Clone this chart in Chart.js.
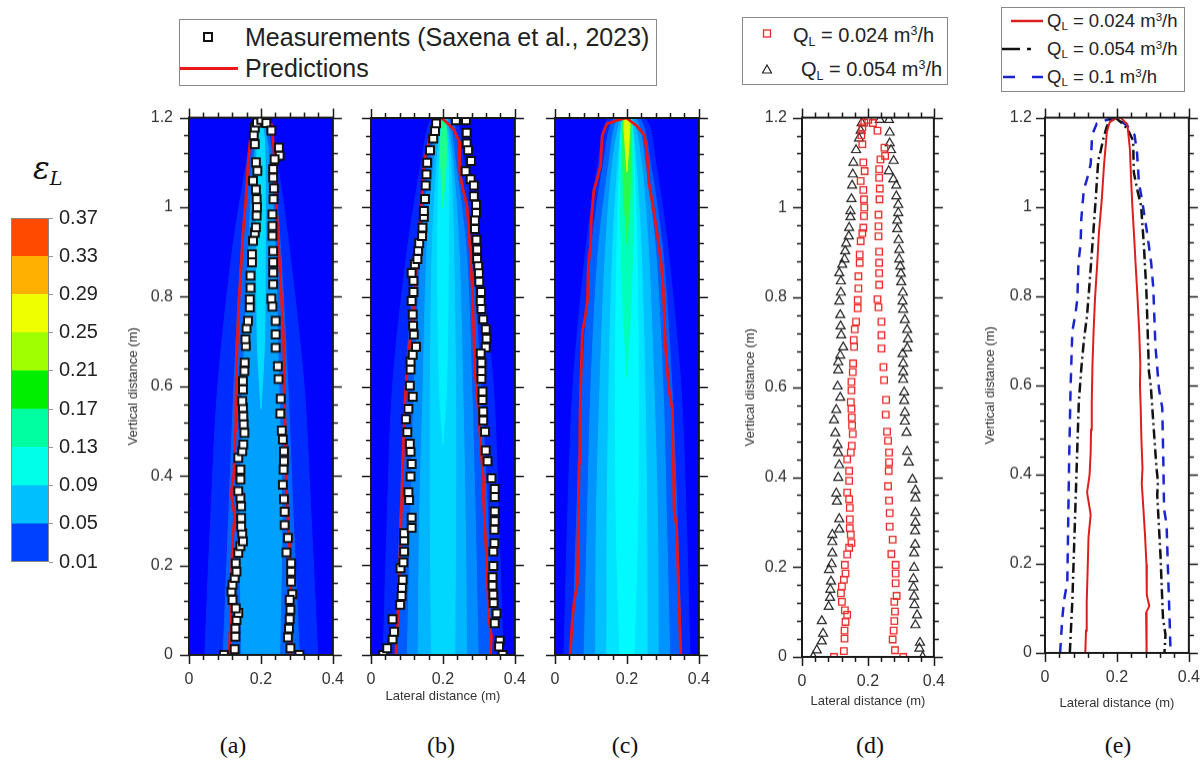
<!DOCTYPE html>
<html>
<head>
<meta charset="utf-8">
<script src="https://cdn.jsdelivr.net/npm/chart.js@4.4.0/dist/chart.umd.min.js"></script>
<style>
  body { margin: 0; background: #fff; font-family: "Liberation Sans", Arial, sans-serif; }
  #page { position: relative; width: 1204px; height: 764px; overflow: hidden; }
  #page canvas { position: absolute; }
  .t { position: absolute; white-space: nowrap; color: #222; }
  .box { position: absolute; box-sizing: border-box; border: 1.5px solid #8a8a8a; background: #fff; }
  sub, sup { font-size: 0.62em; line-height: 0; }
  sub { vertical-align: -0.3em; }
  sup { vertical-align: 0.55em; }
  .lab { position: absolute; width: 60px; text-align: center; font: 24px "Liberation Serif", "Times New Roman", serif; line-height: 28px; color: #111; }
</style>
</head>
<body>
<div id="page">
  <div class="t" style="left:33px;top:150px;font:italic 31px 'DejaVu Serif',serif;color:#111;">ε<sub style="font-size:0.62em;">L</sub></div>

  <div class="box" style="left:179px;top:19px;width:478px;height:67px;"></div>
  <div style="position:absolute;left:203px;top:32px;width:10px;height:10px;box-sizing:border-box;border:2.5px solid #111;background:#fff;"></div>
  <div style="position:absolute;left:180px;top:66.5px;width:58px;height:3px;background:rgb(235,25,25);"></div>
  <div class="t" style="left:245px;top:23px;font-size:25px;line-height:28px;">Measurements (Saxena et al., 2023)</div>
  <div class="t" style="left:245px;top:54px;font-size:25px;line-height:28px;">Predictions</div>

  <div class="box" style="left:742px;top:17px;width:206px;height:68px;"></div>
  <div class="t" style="left:793px;top:21px;font-size:20px;line-height:28px;">Q<sub>L</sub> = 0.024 m<sup>3</sup>/h</div>
  <div class="t" style="left:801px;top:55px;font-size:20px;line-height:28px;">Q<sub>L</sub> = 0.054 m<sup>3</sup>/h</div>

  <div class="box" style="left:1001px;top:7px;width:184px;height:85px;"></div>
  <div class="t" style="left:1047px;top:8px;font-size:18.5px;line-height:26px;">Q<sub>L</sub> = 0.024 m<sup>3</sup>/h</div>
  <div class="t" style="left:1047px;top:36px;font-size:18.5px;line-height:26px;">Q<sub>L</sub> = 0.054 m<sup>3</sup>/h</div>
  <div class="t" style="left:1047px;top:64px;font-size:18.5px;line-height:26px;">Q<sub>L</sub> = 0.1 m<sup>3</sup>/h</div>

  <svg style="position:absolute;left:0;top:0;" width="1204" height="100">
    <rect x="763.5" y="30" width="7" height="7" fill="none" stroke="rgb(235,40,40)" stroke-width="1.3"/>
    <polygon points="767,65 771.5,73 762.5,73" fill="none" stroke="#222" stroke-width="1.2"/>
    <line x1="1011" y1="21" x2="1043" y2="21" stroke="rgb(220,30,30)" stroke-width="2.5"/>
    <line x1="1002" y1="49" x2="1020" y2="49" stroke="#111" stroke-width="2.5"/>
    <line x1="1027" y1="49" x2="1031" y2="49" stroke="#111" stroke-width="2.5"/>
    <line x1="1003" y1="77" x2="1015" y2="77" stroke="rgb(25,35,210)" stroke-width="2.5"/>
    <line x1="1032" y1="77" x2="1043" y2="77" stroke="rgb(25,35,210)" stroke-width="2.5"/>
  </svg>

  <div class="lab" style="left:203px;top:731px;">(a)</div>
  <div class="lab" style="left:411px;top:731px;">(b)</div>
  <div class="lab" style="left:595px;top:731px;">(c)</div>
  <div class="lab" style="left:840px;top:731px;">(d)</div>
  <div class="lab" style="left:1088px;top:731px;">(e)</div>
</div>

<script>
// ---- axis values ----
const xTicks = [0, 0.2, 0.4];
const yTicks = [0, 0.2, 0.4, 0.6, 0.8, 1, 1.2];
const minorStep = 0.04;
const cbarLevels = [0.01, 0.05, 0.09, 0.13, 0.17, 0.21, 0.25, 0.29, 0.33, 0.37];

// ---- measurements [x, y] ----
const measA_left = [[0.097,0.0],[0.127,0.013],[0.129,0.041],[0.129,0.059],[0.132,0.078],[0.137,0.094],[0.130,0.104],[0.121,0.123],[0.118,0.142],[0.121,0.157],[0.127,0.172],[0.132,0.186],[0.130,0.205],[0.137,0.228],[0.143,0.243],[0.150,0.254],[0.148,0.272],[0.145,0.287],[0.145,0.306],[0.145,0.332],[0.143,0.351],[0.137,0.366],[0.143,0.392],[0.143,0.414],[0.137,0.440],[0.148,0.455],[0.151,0.470],[0.154,0.496],[0.152,0.515],[0.151,0.533],[0.150,0.552],[0.148,0.567],[0.150,0.593],[0.150,0.612],[0.154,0.634],[0.155,0.653],[0.158,0.690],[0.157,0.705],[0.160,0.729],[0.164,0.746],[0.169,0.776],[0.169,0.794],[0.171,0.820],[0.171,0.847],[0.175,0.877],[0.175,0.895],[0.178,0.925],[0.183,0.943],[0.186,0.955],[0.188,0.981],[0.189,1.000],[0.188,1.018],[0.186,1.039],[0.178,1.059],[0.190,1.081],[0.186,1.100],[0.183,1.141],[0.180,1.161],[0.183,1.178],[0.189,1.189],[0.201,1.195]];
const measA_right = [[0.215,1.188],[0.229,1.171],[0.250,1.133],[0.252,1.115],[0.238,1.107],[0.234,1.085],[0.234,1.066],[0.236,1.042],[0.235,1.018],[0.232,0.984],[0.232,0.958],[0.232,0.936],[0.234,0.902],[0.234,0.877],[0.234,0.854],[0.234,0.828],[0.229,0.796],[0.232,0.778],[0.241,0.746],[0.241,0.716],[0.241,0.686],[0.247,0.645],[0.249,0.616],[0.255,0.572],[0.254,0.539],[0.258,0.501],[0.261,0.481],[0.264,0.455],[0.264,0.433],[0.263,0.414],[0.261,0.380],[0.264,0.348],[0.266,0.320],[0.266,0.290],[0.275,0.261],[0.271,0.229],[0.284,0.205],[0.284,0.186],[0.284,0.164],[0.287,0.136],[0.280,0.123],[0.282,0.101],[0.280,0.080],[0.278,0.059],[0.275,0.039],[0.282,0.015],[0.307,0.0]];
const measB_left = [[0.034,0.0],[0.045,0.015],[0.060,0.035],[0.064,0.052],[0.060,0.080],[0.081,0.112],[0.085,0.132],[0.086,0.150],[0.088,0.168],[0.082,0.194],[0.090,0.207],[0.092,0.231],[0.092,0.256],[0.092,0.272],[0.113,0.284],[0.113,0.307],[0.106,0.346],[0.104,0.364],[0.110,0.399],[0.113,0.427],[0.110,0.454],[0.108,0.472],[0.101,0.498],[0.097,0.527],[0.104,0.550],[0.116,0.577],[0.108,0.602],[0.110,0.638],[0.110,0.656],[0.116,0.671],[0.125,0.689],[0.119,0.716],[0.117,0.736],[0.116,0.761],[0.113,0.791],[0.118,0.811],[0.118,0.836],[0.113,0.854],[0.122,0.873],[0.129,0.885],[0.131,0.903],[0.134,0.920],[0.142,0.936],[0.143,0.955],[0.147,0.979],[0.147,0.992],[0.150,1.019],[0.152,1.049],[0.154,1.074],[0.156,1.100],[0.164,1.128],[0.173,1.154],[0.178,1.171],[0.181,1.188]];
const measB_right = [[0.236,1.195],[0.264,1.195],[0.266,1.167],[0.266,1.143],[0.270,1.128],[0.278,1.104],[0.263,1.081],[0.277,1.063],[0.286,1.049],[0.286,1.025],[0.292,1.006],[0.292,0.988],[0.289,0.971],[0.289,0.952],[0.293,0.928],[0.295,0.906],[0.295,0.885],[0.298,0.869],[0.300,0.853],[0.301,0.834],[0.306,0.811],[0.305,0.791],[0.307,0.773],[0.312,0.750],[0.319,0.728],[0.321,0.707],[0.319,0.687],[0.305,0.674],[0.307,0.653],[0.307,0.634],[0.307,0.617],[0.310,0.589],[0.310,0.570],[0.312,0.544],[0.312,0.524],[0.317,0.499],[0.319,0.457],[0.324,0.433],[0.335,0.395],[0.344,0.371],[0.344,0.353],[0.344,0.321],[0.344,0.299],[0.343,0.280],[0.343,0.250],[0.340,0.231],[0.340,0.199],[0.338,0.174],[0.338,0.155],[0.340,0.135],[0.341,0.116],[0.349,0.093],[0.344,0.071],[0.358,0.032],[0.356,0.019],[0.366,0.0]];

// ---- predicted plume outlines [x, y] (left edge up, right edge down) ----
const predA = [[0.112,0],[0.114,0.05],[0.116,0.116],[0.118,0.17],[0.121,0.26],[0.127,0.31],[0.117,0.36],[0.124,0.40],[0.127,0.45],[0.128,0.5],[0.130,0.564],[0.132,0.645],[0.135,0.72],[0.139,0.794],[0.145,0.87],[0.150,0.943],[0.158,1.018],[0.164,1.093],[0.172,1.168],[0.180,1.19],[0.200,1.2],[0.210,1.2],[0.229,1.185],[0.236,1.13],[0.240,1.05],[0.243,1.0],[0.248,0.93],[0.252,0.87],[0.257,0.8],[0.262,0.72],[0.265,0.645],[0.264,0.60],[0.266,0.55],[0.268,0.48],[0.271,0.414],[0.269,0.38],[0.273,0.33],[0.278,0.265],[0.282,0.2],[0.283,0.13],[0.290,0.105],[0.281,0.09],[0.283,0.05],[0.282,0]];
const predB = [[0.069,0],[0.072,0.05],[0.076,0.116],[0.082,0.265],[0.088,0.414],[0.094,0.563],[0.101,0.638],[0.108,0.70],[0.117,0.757],[0.124,0.83],[0.131,0.906],[0.141,1.018],[0.148,1.104],[0.155,1.126],[0.162,1.152],[0.171,1.178],[0.181,1.197],[0.196,1.2],[0.212,1.189],[0.230,1.174],[0.245,1.148],[0.247,1.077],[0.256,1.04],[0.267,1.003],[0.275,0.913],[0.282,0.809],[0.289,0.63],[0.294,0.60],[0.301,0.518],[0.310,0.414],[0.314,0.384],[0.312,0.354],[0.317,0.28],[0.321,0.22],[0.328,0.078],[0.335,0.041],[0.332,0]];
const predC = [[0.042,0],[0.048,0.077],[0.053,0.118],[0.062,0.159],[0.064,0.265],[0.067,0.428],[0.069,0.509],[0.071,0.591],[0.074,0.672],[0.076,0.721],[0.085,0.762],[0.090,0.794],[0.093,0.876],[0.099,0.917],[0.101,0.974],[0.108,1.039],[0.117,1.063],[0.127,1.096],[0.131,1.161],[0.144,1.187],[0.173,1.195],[0.199,1.2],[0.229,1.181],[0.249,1.161],[0.256,1.12],[0.261,1.055],[0.270,1.014],[0.284,0.941],[0.295,0.876],[0.301,0.819],[0.307,0.688],[0.317,0.591],[0.326,0.55],[0.329,0.428],[0.331,0.322],[0.338,0.289],[0.342,0.183],[0.347,0.061],[0.349,0]];

// ---- contour bands [y, xLeft, xRight], outermost first ----
const bandsA = [
  [[0,0.044,0.358],[0.3,0.06,0.34],[0.6,0.08,0.32],[0.9,0.12,0.28],[1.1,0.16,0.245],[1.2,0.185,0.215]],
  [[0,0.095,0.307],[0.3,0.11,0.29],[0.6,0.125,0.275],[0.9,0.145,0.255],[1.1,0.17,0.235],[1.2,0.19,0.21]],
  [[0,0.146,0.252],[0.3,0.142,0.258],[0.6,0.15,0.25],[0.9,0.165,0.24],[1.1,0.18,0.225],[1.2,0.195,0.205]],
  [[0.55,0.2,0.2],[0.7,0.19,0.21],[1.0,0.188,0.212],[1.15,0.19,0.21],[1.2,0.2,0.2]]
];
const bandsB = [
  [[0,0.034,0.367],[0.3,0.045,0.355],[0.6,0.06,0.34],[0.9,0.1,0.3],[1.1,0.14,0.26],[1.2,0.17,0.235]],
  [[0,0.069,0.335],[0.3,0.08,0.325],[0.6,0.095,0.305],[0.9,0.125,0.28],[1.1,0.155,0.245],[1.2,0.18,0.225]],
  [[0,0.101,0.298],[0.3,0.11,0.29],[0.6,0.12,0.28],[0.9,0.14,0.265],[1.1,0.165,0.235],[1.2,0.19,0.215]],
  [[0,0.131,0.266],[0.3,0.135,0.262],[0.6,0.145,0.255],[0.9,0.155,0.245],[1.1,0.175,0.228],[1.2,0.195,0.21]],
  [[0,0.168,0.233],[0.3,0.165,0.235],[0.6,0.165,0.235],[0.9,0.17,0.23],[1.1,0.183,0.222],[1.2,0.198,0.206]],
  [[0.47,0.2,0.2],[0.6,0.19,0.21],[0.9,0.185,0.215],[1.1,0.19,0.215],[1.2,0.2,0.205]],
  [[1.0,0.2,0.2],[1.12,0.193,0.21],[1.2,0.198,0.206]]
];
const bandsC = [
  [[0,0.025,0.375],[0.3,0.035,0.365],[0.6,0.05,0.35],[0.9,0.085,0.315],[1.1,0.12,0.28],[1.2,0.15,0.25]],
  [[0,0.048,0.352],[0.3,0.06,0.34],[0.6,0.075,0.325],[0.9,0.1,0.3],[1.1,0.135,0.265],[1.2,0.165,0.235]],
  [[0,0.081,0.319],[0.3,0.09,0.31],[0.6,0.1,0.3],[0.9,0.12,0.28],[1.1,0.15,0.25],[1.2,0.175,0.225]],
  [[0,0.113,0.287],[0.3,0.115,0.285],[0.6,0.125,0.275],[0.9,0.14,0.26],[1.1,0.16,0.24],[1.2,0.185,0.215]],
  [[0,0.144,0.256],[0.3,0.145,0.255],[0.6,0.15,0.25],[0.9,0.16,0.24],[1.1,0.175,0.225],[1.2,0.19,0.21]],
  [[0,0.18,0.22],[0.3,0.17,0.23],[0.6,0.168,0.232],[0.9,0.172,0.228],[1.1,0.18,0.22],[1.2,0.19,0.21]],
  [[0.62,0.2,0.2],[0.8,0.188,0.212],[1.0,0.182,0.218],[1.15,0.185,0.215],[1.2,0.19,0.21]],
  [[0.92,0.2,0.2],[1.05,0.19,0.21],[1.15,0.188,0.212],[1.2,0.19,0.21]],
  [[1.08,0.2,0.2],[1.15,0.194,0.206],[1.2,0.193,0.207]]
];

// ---- styles ----
const bgBlue = 'rgb(0,4,252)';
const colorsA = ['rgb(0,45,255)', 'rgb(0,100,255)', 'rgb(0,160,255)', 'rgb(0,220,255)'];
const colorsB = ['rgb(0,40,255)', 'rgb(0,92,255)', 'rgb(0,140,255)', 'rgb(0,182,255)', 'rgb(0,215,255)', 'rgb(0,240,255)', 'rgb(30,255,140)'];
const colorsC = ['rgb(0,40,255)', 'rgb(0,95,255)', 'rgb(0,148,255)', 'rgb(0,192,255)', 'rgb(0,228,255)', 'rgb(0,250,255)', 'rgb(0,255,185)', 'rgb(40,250,80)', 'rgb(220,255,0)'];
const cbarColors = ['#0040ff', '#00bfff', '#00ffe8', '#00ffa0', '#00ee00', '#a0ff00', '#f0ff00', '#ffb000', '#ff4a00'];
const red = 'rgb(235,20,20)';

Chart.defaults.font.family = '"Liberation Sans", Arial, sans-serif';
Chart.defaults.color = '#333';

const page = document.getElementById('page');
const fmt = v => String(Math.round(v * 10) / 10);
const pts = arr => arr.map(p => ({x: p[0], y: p[1]}));

// plot background colour
const plotBg = {
  id: 'plotBg',
  beforeDatasetsDraw(chart, args, opts) {
    if (!opts.color) return;
    const a = chart.chartArea, ctx = chart.ctx;
    ctx.save();
    ctx.fillStyle = opts.color;
    ctx.fillRect(a.left, a.top, a.right - a.left, a.bottom - a.top);
    ctx.restore();
  }
};

// box frame with outward major/minor ticks on all four sides
const frame = {
  id: 'frame',
  afterDraw(chart) {
    const {ctx, chartArea: a, scales: {x, y}} = chart;
    ctx.save();
    ctx.strokeStyle = '#1a1a1a';
    ctx.lineWidth = 1.5;
    ctx.beginPath();
    const nx = Math.round((x.max - x.min) / minorStep);
    for (let i = 0; i <= nx; i++) {
      const px = Math.round(x.getPixelForValue(x.min + i * minorStep)) + 0.5;
      const len = i % 5 === 0 ? 9 : 5;
      ctx.moveTo(px, a.bottom); ctx.lineTo(px, a.bottom + len);
      ctx.moveTo(px, a.top); ctx.lineTo(px, a.top - len);
    }
    const ny = Math.round((y.max - y.min) / minorStep);
    for (let i = 0; i <= ny; i++) {
      const py = Math.round(y.getPixelForValue(y.min + i * minorStep)) + 0.5;
      const len = i % 5 === 0 ? 9 : 5;
      ctx.moveTo(a.left, py); ctx.lineTo(a.left - len, py);
      ctx.moveTo(a.right, py); ctx.lineTo(a.right + len, py);
    }
    ctx.stroke();
    ctx.lineWidth = 2;
    ctx.strokeRect(a.left, a.top, a.right - a.left, a.bottom - a.top);
    ctx.restore();
  }
};

function bandSets(bands, colors) {
  return bands.map((rows, k) => {
    const left = rows.map(r => ({x: r[1], y: r[0]}));
    const right = rows.slice().reverse().map(r => ({x: r[2], y: r[0]}));
    return {
      data: left.concat(right), showLine: true, fill: 'shape',
      backgroundColor: colors[k], borderColor: colors[k], borderWidth: 1,
      pointRadius: 0, tension: 0.3, order: 100 - k
    };
  });
}
function predSet(arr, color, width, dash) {
  return {data: pts(arr), showLine: true, fill: false, borderColor: color, borderWidth: width,
          borderDash: dash || [], pointRadius: 0, order: 1};
}
function measSet(arr) {
  return {data: pts(arr), pointStyle: 'rect', pointRadius: 5.6, backgroundColor: '#fff',
          borderColor: '#111', borderWidth: 2, order: 0};
}

function panelConfig(p, datasets, bg, YW, XH, PT) {
  return {
    type: 'scatter',
    data: {datasets},
    options: {
      responsive: false, animation: false, devicePixelRatio: 1,
      layout: {padding: {left: 0, top: PT, right: 18, bottom: 0}},
      plugins: {legend: {display: false}, tooltip: {enabled: false}, plotBg: {color: bg}},
      scales: {
        x: {
          type: 'linear', min: 0, max: 0.4,
          afterBuildTicks: s => { s.ticks = xTicks.map(v => ({value: v})); },
          afterFit: s => { s.height = XH; },
          grid: {display: false, drawTicks: false}, border: {display: false},
          ticks: {font: {size: 16}, color: '#333', padding: 15, maxRotation: 0, autoSkip: false, callback: fmt},
          title: {display: !!p.xTitleY, text: 'Lateral distance (m)', font: {size: 13}, color: '#333',
                  padding: {top: 0, bottom: 1}}
        },
        y: {
          type: 'linear', min: 0, max: 1.2,
          afterBuildTicks: s => { s.ticks = yTicks.map(v => ({value: v})); },
          afterFit: s => { s.width = YW; },
          grid: {display: false, drawTicks: false}, border: {display: false},
          ticks: {display: !!p.yTitleX, font: {size: 16}, color: '#333', padding: p.yPad || 15, autoSkip: false, callback: fmt},
          title: {display: !!p.yTitleX, text: 'Vertical distance (m)', font: {size: 13}, color: '#333',
                  padding: {top: p.yTitleX ? p.yTitleX - (p.x - YW) - 7.8 : 0, bottom: 0}}
        }
      }
    },
    plugins: [plotBg, frame]
  };
}

// build once, measure the plot area, rebuild so it lands exactly on the target box
function addPanel(p, datasets, bg) {
  const YW = 70, PT = 14, PR = 18;
  const XH = p.xTitleY ? Math.round(p.xTitleY + 9 - (p.y + p.h)) : 40;
  const cv = document.createElement('canvas');
  page.appendChild(cv);
  let W = p.w + YW + PR, H = p.h + PT + XH;
  cv.width = W; cv.height = H;
  let chart = new Chart(cv, panelConfig(p, datasets, bg, YW, XH, PT));
  let a = chart.chartArea;
  const dw = p.w - (a.right - a.left), dh = p.h - (a.bottom - a.top);
  if (Math.abs(dw) > 0.01 || Math.abs(dh) > 0.01) {
    chart.destroy();
    W += dw; H += dh;
    cv.width = W; cv.height = H;
    cv.style.width = W + 'px'; cv.style.height = H + 'px';
    chart = new Chart(cv, panelConfig(p, datasets, bg, YW, XH, PT));
    a = chart.chartArea;
  }
  cv.style.left = (p.x - a.left) + 'px';
  cv.style.top = (p.y - a.top) + 'px';
}

const geo = {
  a: {x: 189, y: 118, w: 144, h: 537, yTitleX: 133, yPad: 16},
  b: {x: 371, y: 118, w: 144, h: 537, xTitleY: 696},
  c: {x: 555, y: 118, w: 144, h: 537},
  d: {x: 802, y: 118, w: 132, h: 539, yTitleX: 750, yPad: 15, xTitleY: 701},
  e: {x: 1045, y: 118, w: 144, h: 535, yTitleX: 990, yPad: 13, xTitleY: 703}
};

addPanel(geo.a, bandSets(bandsA, colorsA).concat([
  predSet(predA, red, 2.8),
  measSet(measA_left.concat(measA_right))
]), bgBlue);

addPanel(geo.b, bandSets(bandsB, colorsB).concat([
  predSet(predB, red, 2.8),
  measSet(measB_left.concat(measB_right))
]), bgBlue);

addPanel(geo.c, bandSets(bandsC, colorsC).concat([
  predSet(predC, red, 2.8)
]), bgBlue);

addPanel(geo.d, [
  {data: pts(measA_left.concat(measA_right)), pointStyle: 'rect', pointRadius: 4.6,
   backgroundColor: 'rgba(0,0,0,0)', borderColor: 'rgb(235,40,40)', borderWidth: 1.3, order: 0},
  {data: pts(measB_left.concat(measB_right)), pointStyle: 'triangle', pointRadius: 5.2,
   backgroundColor: 'rgba(0,0,0,0)', borderColor: '#222', borderWidth: 1.2, order: 1}
], null);

addPanel(geo.e, [
  predSet(predA, 'rgb(220,30,30)', 2),
  predSet(predB, '#111', 2.5, [10, 4, 2, 4]),
  predSet(predC, 'rgb(25,35,210)', 2.5, [10, 8])
], null);

// ---- colour bar ----
(function () {
  const cv = document.createElement('canvas');
  cv.width = 130; cv.height = 380;
  cv.style.left = '0px'; cv.style.top = '200px';
  page.appendChild(cv);
  new Chart(cv, {
    type: 'bar',
    data: {
      labels: [''],
      datasets: cbarLevels.slice(0, -1).map((v, i) => ({
        data: [[v, cbarLevels[i + 1]]], backgroundColor: cbarColors[i], borderWidth: 0,
        grouped: false, barPercentage: 1, categoryPercentage: 1
      }))
    },
    options: {
      responsive: false, animation: false, devicePixelRatio: 1,
      layout: {padding: {left: 11, top: 13, right: 0, bottom: 13}},
      plugins: {legend: {display: false}, tooltip: {enabled: false}},
      scales: {
        x: {display: false},
        y: {
          position: 'right', min: 0.01, max: 0.37,
          afterBuildTicks: s => { s.ticks = cbarLevels.map(v => ({value: v})); },
          afterFit: s => { s.width = 81; },
          grid: {drawOnChartArea: false, drawTicks: true, tickLength: 4, color: '#999'},
          border: {display: false},
          ticks: {font: {size: 20}, color: '#222', padding: 6, autoSkip: false, callback: v => v.toFixed(2)}
        }
      }
    },
    plugins: [{
      id: 'cbarFrame',
      afterDraw(chart) {
        const a = chart.chartArea, ctx = chart.ctx;
        ctx.save(); ctx.strokeStyle = '#888'; ctx.lineWidth = 1;
        ctx.strokeRect(a.left + 0.5, a.top + 0.5, a.right - a.left - 1, a.bottom - a.top - 1);
        ctx.restore();
      }
    }]
  });
})();
</script>
</body>
</html>
